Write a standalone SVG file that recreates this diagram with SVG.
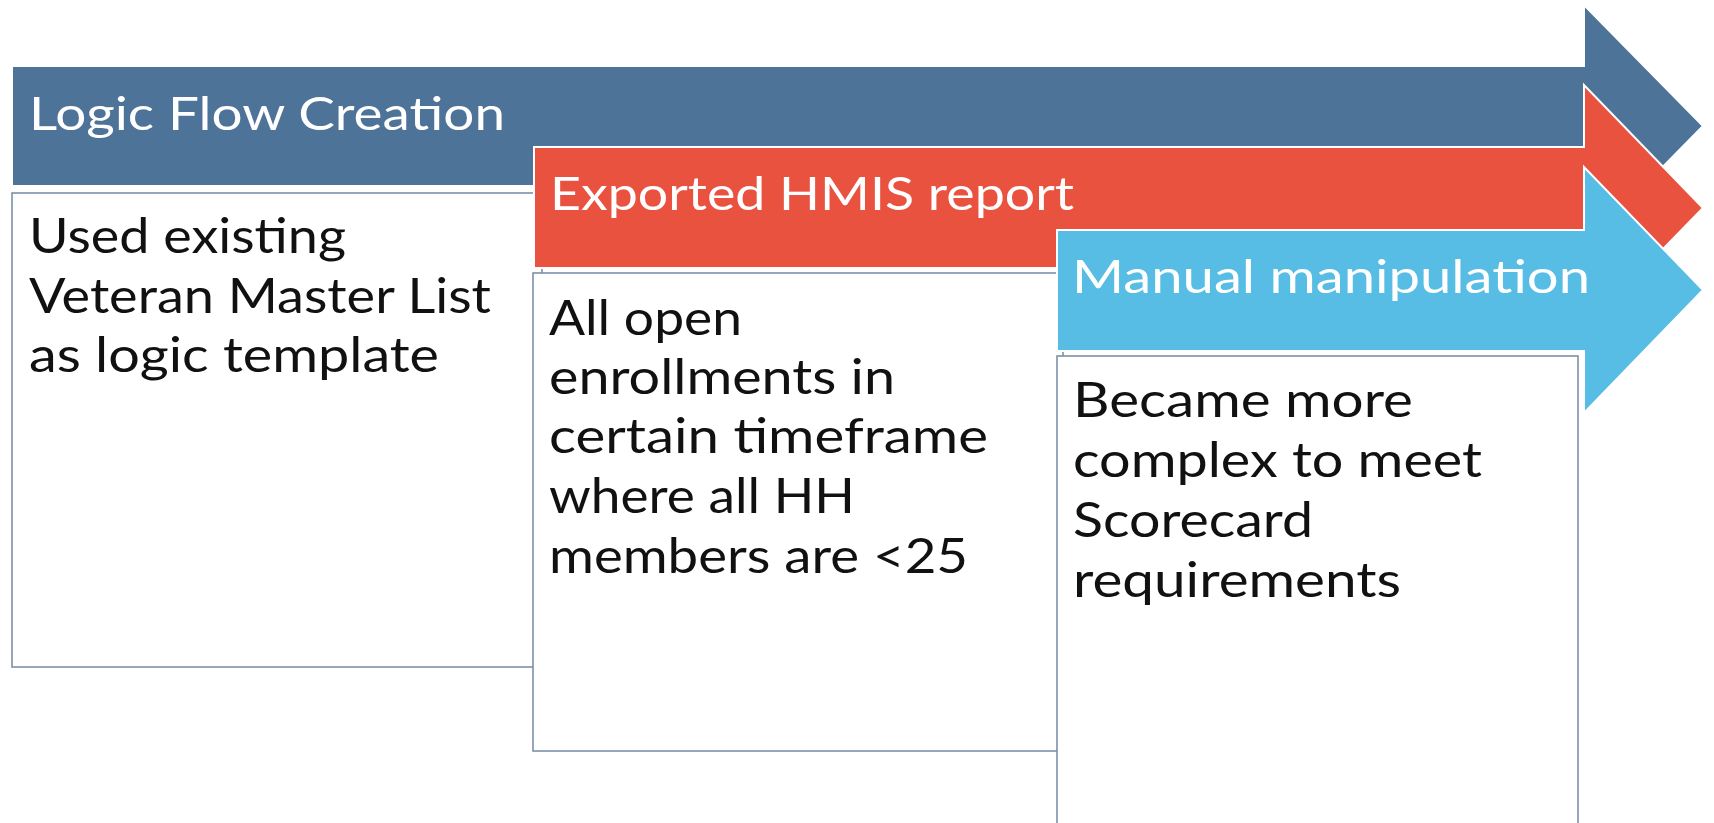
<svg xmlns="http://www.w3.org/2000/svg" width="1714" height="823" viewBox="0 0 1714 823">
<style>
.arrow{stroke:#ffffff;stroke-width:2;stroke-linejoin:miter}
.blue{fill:#4e7399}
.red{fill:#ea5240}
.cyan{fill:#57bde5}
.box{fill:#ffffff;stroke:#7d91a8;stroke-width:1.6}
.hdr{font-family:Lato,"Open Sans","Liberation Sans",sans-serif;font-size:47px;font-weight:400;fill:#ffffff}
.body{font-family:Lato,"Open Sans","Liberation Sans",sans-serif;font-size:48px;font-weight:400;fill:#111111}
</style>
<rect width="1714" height="823" fill="#ffffff"/>
<g id="connectors"/>
<g id="step1">
<polygon class="arrow blue" points="12,66 1584,66 1584,5 1703,126 1584,247 1584,186 12,186"/>
<text class="hdr" x="29" y="130" textLength="476" lengthAdjust="spacingAndGlyphs">Logic Flow Creation</text>
<rect class="box" x="12" y="193" width="530" height="474"/>
<text class="body" x="29" y="253" textLength="317" lengthAdjust="spacingAndGlyphs">Used existing</text>
<text class="body" x="29" y="313" textLength="462" lengthAdjust="spacingAndGlyphs">Veteran Master List</text>
<text class="body" x="29" y="372" textLength="410" lengthAdjust="spacingAndGlyphs">as logic template</text>
</g>
<g id="step2">
<polygon class="arrow red" points="534,147 1584,147 1584,85 1703,208 1584,330 1584,268 534,268"/>
<text class="hdr" x="550" y="210" textLength="524" lengthAdjust="spacingAndGlyphs">Exported HMIS report</text>
<rect class="box" x="533" y="273" width="530" height="478"/>
<text class="body" x="549" y="335" textLength="193" lengthAdjust="spacingAndGlyphs">All open</text>
<text class="body" x="549" y="394" textLength="346" lengthAdjust="spacingAndGlyphs">enrollments in</text>
<text class="body" x="549" y="453" textLength="439" lengthAdjust="spacingAndGlyphs">certain timeframe</text>
<text class="body" x="549" y="513" textLength="306" lengthAdjust="spacingAndGlyphs">where all HH</text>
<text class="body" x="549" y="573" textLength="419" lengthAdjust="spacingAndGlyphs">members are &lt;25</text>
</g>
<g id="step3">
<polygon class="arrow cyan" points="1057,230 1584,230 1584,167 1703,290 1584,413 1584,351 1057,351"/>
<text class="hdr" x="1072" y="293" textLength="518" lengthAdjust="spacingAndGlyphs">Manual manipulation</text>
<rect class="box" x="1057" y="356" width="521" height="480"/>
<text class="body" x="1073" y="417" textLength="340" lengthAdjust="spacingAndGlyphs">Became more</text>
<text class="body" x="1073" y="477" textLength="409" lengthAdjust="spacingAndGlyphs">complex to meet</text>
<text class="body" x="1073" y="537" textLength="240" lengthAdjust="spacingAndGlyphs">Scorecard</text>
<text class="body" x="1073" y="597" textLength="328" lengthAdjust="spacingAndGlyphs">requirements</text>
</g>
</svg>
